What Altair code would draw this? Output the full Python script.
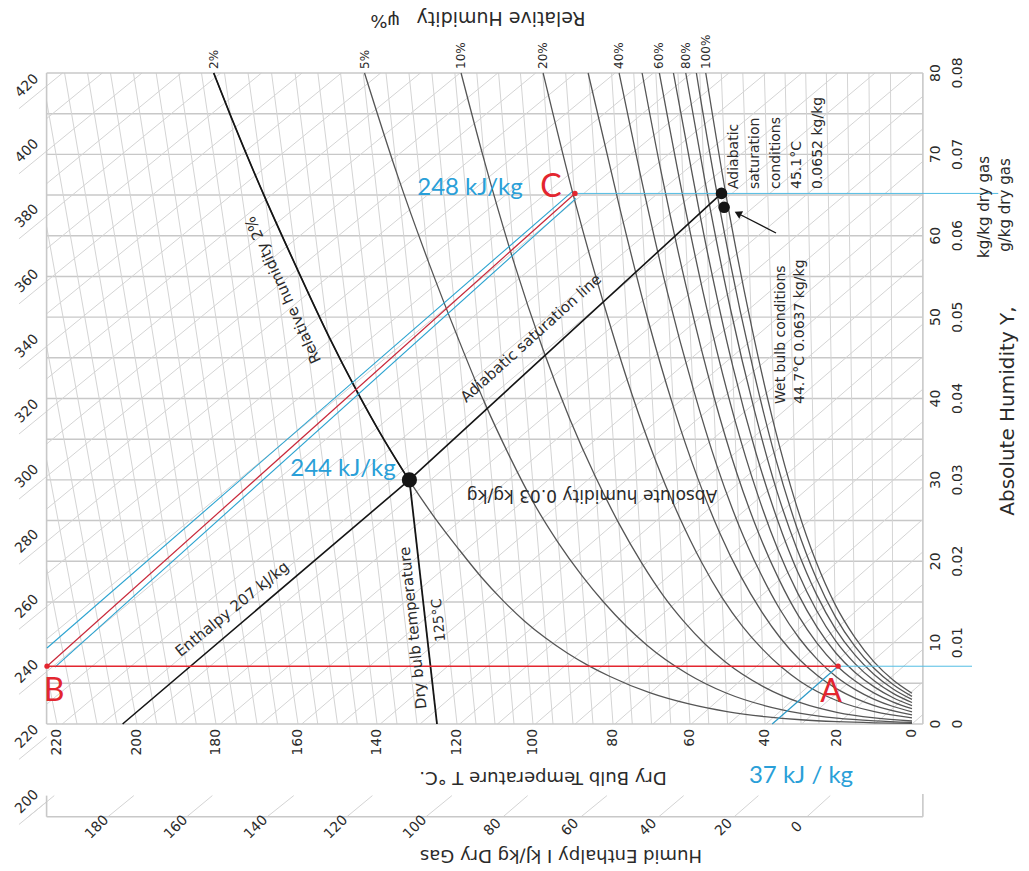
import altair as alt
import pandas as pd

# ---------------- axis values ----------------
temp_ticks = [0, 20, 40, 60, 80, 100, 120, 140, 160, 180, 200, 220]
hum_ticks = [0, 10, 20, 30, 40, 50, 60, 70, 80]
hum_kg_labels = ["0", "0.01", "0.02", "0.03", "0.04", "0.05", "0.06", "0.07", "0.08"]
enth_left_ticks = [200, 220, 240, 260, 280, 300, 320, 340, 360, 380, 400, 420]
enth_bottom_ticks = [0, 20, 40, 60, 80, 100, 120, 140, 160, 180]

# ---------------- relative humidity curves (x = dry-bulb position, y = g/kg) ----------------
rh100_x = [0, 5.05, 10.14, 15.24, 20.54, 25.93, 31.5, 37.4, 43.6, 50.4, 55.8]
rh100_y = [3.77, 5.40, 7.63, 10.65, 14.70, 20.08, 27.2, 36.6, 48.9, 65.0, 80]
rh90_x = [0, 5.04, 10.13, 15.27, 20.49, 25.83, 31.35, 37.1, 43.2, 49.8, 57.1, 58.3]
rh90_y = [3.39, 4.86, 6.86, 9.57, 13.2, 18.0, 24.4, 32.7, 43.7, 57.9, 76.6, 80]
rh80_x = [0, 5.04, 10.11, 15.24, 20.43, 25.74, 31.2, 36.9, 42.8, 49.2, 56.2, 61.1]
rh80_y = [3.02, 4.31, 6.09, 8.49, 11.70, 15.96, 21.6, 28.9, 38.5, 51.0, 67.2, 80]
rh70_x = [0, 5.03, 10.10, 15.21, 20.38, 25.64, 31.04, 36.63, 42.47, 48.67, 55.36, 62.73, 64.3]
rh70_y = [2.64, 3.77, 5.32, 7.42, 10.21, 13.92, 18.8, 25.2, 33.4, 44.1, 58.0, 76.0, 80]
rh60_x = [0, 5.03, 10.08, 15.18, 20.32, 25.55, 30.89, 36.39, 42.10, 48.12, 54.54, 61.51, 67.96]
rh60_y = [2.26, 3.23, 4.56, 6.34, 8.73, 11.90, 16.05, 21.4, 28.4, 37.5, 49.1, 64.0, 80]
rh50_x = [0, 5.02, 10.07, 15.15, 20.27, 25.46, 30.74, 36.15, 41.74, 47.57, 53.73, 60.33, 67.53, 72.44]
rh50_y = [1.88, 2.69, 3.79, 5.28, 7.26, 9.88, 13.31, 17.8, 23.5, 30.9, 40.4, 52.4, 67.9, 80]
rh40_x = [0, 5.02, 10.06, 15.12, 20.21, 25.36, 30.59, 35.91, 41.38, 47.04, 52.95, 59.20, 65.89, 73.20, 78.41]
rh40_y = [1.50, 2.15, 3.03, 4.22, 5.80, 7.88, 10.60, 14.13, 18.7, 24.5, 31.9, 41.3, 53.1, 68.2, 80]
rh30_x = [0, 10.04, 15.09, 20.16, 25.27, 30.44, 35.68, 41.03, 46.51, 52.18, 58.09, 64.33, 70.98, 78.19, 86.22]
rh30_y = [1.13, 2.27, 3.16, 4.34, 5.89, 7.92, 10.54, 13.90, 18.2, 23.6, 30.4, 39.0, 49.8, 63.3, 80]
rh20_x = [0, 10.03, 20.11, 30.29, 35.45, 40.68, 46.0, 51.44, 57.03, 62.83, 68.88, 75.28, 82.11, 89.50, 97.47]
rh20_y = [0.75, 1.51, 2.89, 5.26, 6.99, 9.20, 12.0, 15.54, 19.97, 25.5, 32.3, 40.8, 51.3, 64.2, 80]
rh10_x = [0, 10.01, 20.05, 30.15, 40.34, 50.71, 56.0, 61.39, 66.9, 72.56, 78.4, 84.51, 90.91, 97.70, 104.94, 112.80, 118.93]
rh10_y = [0.37, 0.755, 1.44, 2.62, 4.57, 7.68, 9.83, 12.49, 15.75, 19.8, 24.6, 30.5, 37.6, 46.3, 56.6, 69.2, 80]
rh5_x = [0, 10.0, 20.03, 30.07, 40.17, 50.35, 60.69, 71.26, 82.20, 87.87, 93.71, 99.76, 106.06, 112.65, 119.62, 127.06, 135.00, 143.16]
rh5_y = [0.19, 0.38, 0.72, 1.31, 2.27, 3.81, 6.18, 9.72, 14.9, 18.3, 22.3, 27.1, 32.8, 39.4, 47.3, 56.7, 67.6, 80]
rh2_x = [0, 10.0, 20.01, 30.03, 40.07, 50.14, 60.27, 70.5, 80.87, 86.13, 91.45, 96.85, 102.35, 107.95, 113.68,
         119.57, 125.64, 131.91, 138.44, 145.2, 152.37, 159.9, 167.89, 176.4, 180.58]
rh2_y = [0.075, 0.15, 0.29, 0.52, 0.91, 1.52, 2.46, 3.85, 5.87, 7.18, 8.73, 10.56, 12.70, 15.19, 18.1,
         21.5, 25.4, 29.9, 35.1, 41.0, 47.8, 55.6, 64.5, 74.7, 80]

rh_curves = {
    "2%": (rh2_x, rh2_y), "5%": (rh5_x, rh5_y), "10%": (rh10_x, rh10_y), "20%": (rh20_x, rh20_y),
    "30%": (rh30_x, rh30_y), "40%": (rh40_x, rh40_y), "50%": (rh50_x, rh50_y), "60%": (rh60_x, rh60_y),
    "70%": (rh70_x, rh70_y), "80%": (rh80_x, rh80_y), "90%": (rh90_x, rh90_y), "100%": (rh100_x, rh100_y),
}
rh_top_labels = ["2%", "5%", "10%", "20%", "40%", "60%", "80%", "100%"]

# ---------------- process points / lines ----------------
point_A = (19.7, 7.1)
point_B = (222.5, 7.1)
point_C = (89.5, 65.2)
state_dot = (131.9, 30.0)
adiab_sat_pt = (51.6, 65.2)
wet_bulb_pt = (50.9, 63.5)
adiab_line_x = [203.6, 131.9, 51.6]
adiab_line_y = [0, 30.0, 65.2]
dry125_x = [125, 131.9]
dry125_y = [0, 30.0]
enth37_x = [19.7, 38.0]
enth37_y = [7.1, 0]
blue_upper_x = [222.5, 90.25]
blue_upper_y = [9.34, 65.4]
blue_lower_x = [220.5, 89.25]
blue_lower_y = [7.0, 64.6]
blue_right_end = -16.0
blue_right_end_top = -23.0

# ---------------- chart geometry ----------------
X_LEFT, X_RIGHT = 222.6, -2.9
SKEW = 0.001849          # isotherm slant per g/kg
CH, CY = 1.006, 2.501    # enthalpy line coefficients
BRACKET_Y, TICK_TOP_Y = -11.4, -8.8

xs = alt.Scale(domain=temp_ticks, range=[912, 837, 765, 690, 613, 533, 457, 377, 298, 216, 137, 57],
               nice=False, zero=False)
ys = alt.Scale(domain=[0, 80], range=[724, 73], nice=False, zero=False)

FONT = "DejaVu Sans"
LAB = "Lato"
GRID = "#c8c8c8"
GRID2 = "#d4d4d4"
CURVE = "#555555"
BLACK = "#151515"
RED = "#e3262f"
BLUE = "#2a9fd8"
BLUEL = "#52bde3"
TXT = "#2a2a2a"

layers = []


def rules(rows, color, width, opacity=1.0):
    df = pd.DataFrame(rows, columns=["x1", "y1", "x2", "y2"])
    return alt.Chart(df).mark_rule(color=color, strokeWidth=width, opacity=opacity).encode(
        x=alt.X("x1:Q", scale=xs, axis=None), x2="x2:Q",
        y=alt.Y("y1:Q", scale=ys, axis=None), y2="y2:Q")


def poly(px, py, color, width, interp="linear"):
    df = pd.DataFrame({"x": px, "y": py, "o": list(range(len(px)))})
    return alt.Chart(df).mark_line(color=color, strokeWidth=width, interpolate=interp).encode(
        x=alt.X("x:Q", scale=xs, axis=None), y=alt.Y("y:Q", scale=ys, axis=None), order="o:Q")


def dots(pts, color, size):
    df = pd.DataFrame(pts, columns=["x", "y"])
    return alt.Chart(df).mark_point(color=color, fill=color, filled=True, size=size, opacity=1).encode(
        x=alt.X("x:Q", scale=xs, axis=None), y=alt.Y("y:Q", scale=ys, axis=None))


one = pd.DataFrame({"a": [0]})


def txt(s, x, y, size=14, angle=0, color=TXT, font=FONT, align="center", baseline="middle"):
    return alt.Chart(one).mark_text(text=s, angle=angle, fontSize=size, color=color, font=font,
                                    align=align, baseline=baseline).encode(
        x=alt.value(x), y=alt.value(y))


# horizontal humidity grid
layers.append(rules([(X_LEFT, y, X_RIGHT, y) for y in range(5, 80, 5)], GRID, 1.4))

# isotherm grid (slanted)
iso = []
for T in range(5, 225, 5):
    xtop = T * (1 + SKEW * 80)
    if xtop <= X_LEFT:
        iso.append((T, 0, xtop, 80))
    else:
        iso.append((T, 0, X_LEFT, (X_LEFT / T - 1) / SKEW))
layers.append(rules(iso, GRID2, 1.0))

# enthalpy grid
ent = []
for h in range(0, 430, 10):
    ylo = max(0.0, (h - CH * X_LEFT) / CY)
    yhi = min(80.0, (h - CH * X_RIGHT) / CY)
    if yhi > ylo:
        ent.append(((h - CY * ylo) / CH, ylo, (h - CY * yhi) / CH, yhi))
for h in enth_left_ticks:
    ent.append((X_LEFT, (h - CH * X_LEFT) / CY, 229.5, (h - CH * 229.5) / CY))
for h in enth_bottom_ticks + [200]:
    ent.append(((h - CY * BRACKET_Y) / CH, BRACKET_Y, (h - CY * TICK_TOP_Y) / CH, TICK_TOP_Y))
layers.append(rules(ent, GRID2, 1.0))

# frame + bottom bracket
layers.append(rules([(X_LEFT, 0, X_RIGHT, 0), (X_LEFT, 80, X_RIGHT, 80), (X_LEFT, 0, X_LEFT, 80),
                     (X_RIGHT, 0, X_RIGHT, 80), (X_LEFT, BRACKET_Y, X_RIGHT, BRACKET_Y),
                     (X_LEFT, TICK_TOP_Y, X_LEFT, BRACKET_Y), (X_RIGHT, -8.6, X_RIGHT, BRACKET_Y)], GRID, 1.6))

# RH curves
rows = []
for name, (cx, cy) in rh_curves.items():
    for i, (a, b) in enumerate(zip(cx, cy)):
        rows.append({"rh": name, "x": a, "y": b, "o": i})
rhdf = pd.DataFrame(rows)
layers.append(alt.Chart(rhdf).mark_line(color=CURVE, strokeWidth=1.3, interpolate="monotone").encode(
    x=alt.X("x:Q", scale=xs, axis=None), y=alt.Y("y:Q", scale=ys, axis=None), detail="rh:N", order="o:Q"))

# black highlighted lines
up_x = [a for a, b in zip(rh2_x, rh2_y) if b >= 29.9]
up_y = [b for b in rh2_y if b >= 29.9]
layers.append(poly(up_x, up_y, BLACK, 1.7, "monotone"))
layers.append(poly(dry125_x, dry125_y, BLACK, 1.8))
layers.append(poly(adiab_line_x, adiab_line_y, BLACK, 1.6))

# blue thin lines
layers.append(rules([(point_A[0], point_A[1], blue_right_end, point_A[1]),
                     (point_C[0], point_C[1], blue_right_end_top, point_C[1])], BLUEL, 1.0))
layers.append(poly(enth37_x, enth37_y, "#2b9ac8", 1.2))
layers.append(poly(blue_upper_x, blue_upper_y, "#2ba3d0", 1.1))
layers.append(poly(blue_lower_x, blue_lower_y, "#2ba3d0", 1.1))
# red lines
layers.append(poly([point_B[0], point_A[0]], [point_B[1], point_A[1]], RED, 1.6))
layers.append(poly([point_B[0], point_C[0]], [point_B[1], point_C[1]], "#c8283a", 1.2))

# dots
layers.append(dots([point_A, point_B, point_C], RED, 28))
layers.append(dots([state_dot], BLACK, 230))
layers.append(dots([adiab_sat_pt, wet_bulb_pt], BLACK, 135))

# arrow to wet bulb point
layers.append(alt.Chart(one).mark_rule(color=BLACK, strokeWidth=1.3).encode(
    x=alt.value(776), y=alt.value(233), x2=alt.value(741), y2=alt.value(215)))
layers.append(alt.Chart(one).mark_point(shape="triangle", filled=True, fill=BLACK, color=BLACK, size=70,
                                        angle=297, opacity=1).encode(x=alt.value(739), y=alt.value(214)))

# ---------------- tick labels ----------------
tdf = pd.DataFrame({"x": temp_ticks, "y": [-0.6] * len(temp_ticks), "t": [str(v) for v in temp_ticks]})
layers.append(alt.Chart(tdf).mark_text(angle=270, align="right", baseline="middle", fontSize=14,
                                       font=FONT, color=TXT).encode(
    x=alt.X("x:Q", scale=xs, axis=None), y=alt.Y("y:Q", scale=ys, axis=None), text="t:N"))

hdf = pd.DataFrame({"y": hum_ticks, "a": [str(v) for v in hum_ticks], "b": hum_kg_labels})
layers.append(alt.Chart(hdf).mark_text(angle=270, align="center", baseline="middle", fontSize=14,
                                       font=FONT, color=TXT).encode(
    x=alt.value(936), y=alt.Y("y:Q", scale=ys, axis=None), text="a:N"))
layers.append(alt.Chart(hdf).mark_text(angle=270, align="center", baseline="middle", fontSize=14,
                                       font=FONT, color=TXT).encode(
    x=alt.value(958), y=alt.Y("y:Q", scale=ys, axis=None), text="b:N"))

ldf = pd.DataFrame({"x": [227.5] * len(enth_left_ticks),
                    "y": [(h - CH * X_LEFT) / CY for h in enth_left_ticks],
                    "t": [str(h) for h in enth_left_ticks]})
layers.append(alt.Chart(ldf).mark_text(angle=315, align="center", baseline="middle", fontSize=14,
                                       font=FONT, color=TXT).encode(
    x=alt.X("x:Q", scale=xs, axis=None), y=alt.Y("y:Q", scale=ys, axis=None), text="t:N"))

bdf = pd.DataFrame({"x": [(h + CY * 12.7) / CH - 0.5 for h in enth_bottom_ticks],
                    "y": [-12.7] * len(enth_bottom_ticks),
                    "t": [str(h) for h in enth_bottom_ticks]})
layers.append(alt.Chart(bdf).mark_text(angle=315, align="center", baseline="middle", fontSize=14,
                                       font=FONT, color=TXT).encode(
    x=alt.X("x:Q", scale=xs, axis=None), y=alt.Y("y:Q", scale=ys, axis=None), text="t:N"))

topdf = pd.DataFrame({"x": [rh_curves[n][0][-1] for n in rh_top_labels], "y": [80.5] * len(rh_top_labels),
                      "t": rh_top_labels})
layers.append(alt.Chart(topdf).mark_text(angle=270, align="left", baseline="middle", fontSize=12,
                                         font=FONT, color=TXT).encode(
    x=alt.X("x:Q", scale=xs, axis=None), y=alt.Y("y:Q", scale=ys, axis=None), text="t:N"))

# ---------------- titles & annotations ----------------
layers += [
    txt("Relative Humidity", 501, 18, 19, 180),
    txt("ψ%", 385, 20, 18, 180),
    txt("kg/kg dry gas", 984, 207, 15, 270),
    txt("g/kg dry gas", 1005, 205, 15, 270),
    txt("Absolute Humidity Y,", 1008, 411, 20, 270),
    txt("Dry Bulb Temperature  T  °C.", 543, 777, 18, 180),
    txt("Humid Enthalpy  I   kJ/kg Dry Gas", 561, 855, 18, 180),
    txt("Relative humidity 2%", 283, 290, 15, 245),
    txt("Dry bulb temperature", 413, 628, 15, 264),
    txt("125°C", 439, 620, 14, 264),
    txt("Enthalpy 207 kJ/kg", 232, 609, 15, 321),
    txt("Adiabatic saturation line", 531, 338, 15, 318),
    txt("Absolute humidity 0.03 kg/kg", 592, 495, 17, 180),
    txt("Adiabatic", 734, 189, 14, 270, align="left"),
    txt("saturation", 755, 189, 14, 270, align="left"),
    txt("conditions", 776, 189, 14, 270, align="left"),
    txt("45.1°C", 797, 189, 14, 270, align="left"),
    txt("0.0652  kg/kg", 818, 189, 14, 270, align="left"),
    txt("Wet bulb conditions", 781, 404, 14, 270, align="left"),
    txt("44.7°C 0.0637 kg/kg", 800, 404, 14, 270, align="left"),
    txt("248 kJ/kg", 470, 188, 24, 0, BLUE, LAB),
    txt("244 kJ/kg", 343, 469, 24, 0, BLUE, LAB),
    txt("37 kJ / kg", 801, 776, 24, 0, BLUE, LAB),
    txt("A", 831, 692, 32, 0, RED, LAB),
    txt("B", 54, 691, 32, 0, RED, LAB),
    txt("C", 551, 187, 32, 0, RED, LAB),
]

chart = alt.layer(*layers).properties(
    width=1029, height=871, padding=0, autosize=alt.AutoSizeParams(type="none"), background="white"
).configure_view(stroke=None)

chart.save("out.html", embed_options={"renderer": "svg", "actions": False})
